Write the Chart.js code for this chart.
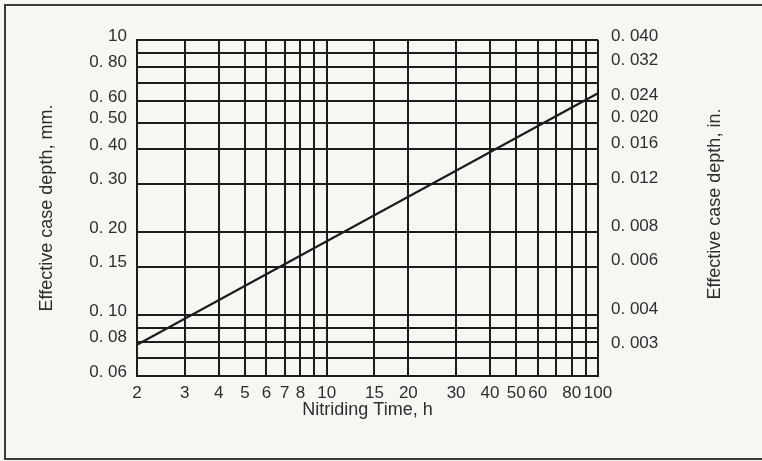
<!DOCTYPE html>
<html>
<head>
<meta charset="utf-8">
<script src="https://cdn.jsdelivr.net/npm/chart.js@4/dist/chart.umd.min.js"></script>
<style>
  html, body { margin: 0; padding: 0; background: #f6f6f3; }
  #wrap { position: relative; width: 762px; height: 461px; overflow: hidden; }
  #frame {
    position: absolute; left: 4px; top: 4px; width: 770px; height: 452px;
    border-top: 2px solid #3a3a3a; border-left: 2px solid #3a3a3a; border-bottom: 2px solid #3a3a3a;
    pointer-events: none;
  }
</style>
</head>
<body>
<div id="wrap">
  <canvas id="myChart" width="762" height="461"></canvas>
  <div id="frame"></div>
</div>
<script>
const times = [2, 100];
const depths = [0.078, 0.64];

// Líneas de la rejilla y etiquetas del eje X
const xGrid = [2, 3, 4, 5, 6, 7, 8, 9, 10, 15, 20, 30, 40, 50, 60, 70, 80, 90, 100];
const xLabels = [2, 3, 4, 5, 6, 7, 8, 10, 15, 20, 30, 40, 50, 60, 80, 100];

// Eje izquierdo en mm
const yGrid = [1.0, 0.9, 0.8, 0.7, 0.6, 0.5, 0.4, 0.3, 0.2, 0.15, 0.10, 0.09, 0.08, 0.07, 0.06];
const yLabels = { 1.0: '10', 0.8: '0. 80', 0.6: '0. 60', 0.5: '0. 50', 0.4: '0. 40', 0.3: '0. 30',
                  0.2: '0. 20', 0.15: '0. 15', 0.1: '0. 10', 0.08: '0. 08', 0.06: '0. 06' };

// Eje derecho en pulgadas
const inTicks = [1 / 25.4, 0.032, 0.024, 0.020, 0.016, 0.012, 0.008, 0.006, 0.004, 0.003];
const inLabels = ['0. 040', '0. 032', '0. 024', '0. 020', '0. 016', '0. 012', '0. 008', '0. 006', '0. 004', '0. 003'];

const ink = '#1c1c1c';
const textColor = '#2e2e2e';
const tickFont = { family: 'Liberation Sans, Arial, sans-serif', size: 17 };
const titleFont = { family: 'Liberation Sans, Arial, sans-serif', size: 18 };

// Título del eje derecho, leído de abajo hacia arriba como el izquierdo
const rightTitle = {
    id: 'rightTitle',
    afterDraw(chart) {
        const c = chart.ctx;
        const area = chart.chartArea;
        c.save();
        c.translate(715, (area.top + area.bottom) / 2 - 4);
        c.rotate(-Math.PI / 2);
        c.fillStyle = textColor;
        c.font = titleFont.size + 'px ' + titleFont.family;
        c.textAlign = 'center';
        c.textBaseline = 'middle';
        c.fillText('Effective case depth, in.', 0, 0);
        c.restore();
    }
};

const ctx = document.getElementById('myChart').getContext('2d');
new Chart(ctx, {
    type: 'line',
    data: {
        datasets: [{
            data: times.map((t, i) => ({ x: t, y: depths[i] })),
            borderColor: ink,
            borderWidth: 2.2,
            pointRadius: 0,
            fill: false
        }]
    },
    options: {
        responsive: false,
        animation: false,
        layout: { padding: { left: 0, right: 0, top: 40, bottom: 0 } },
        plugins: { legend: { display: false }, tooltip: { enabled: false } },
        scales: {
            x: {
                type: 'logarithmic',
                min: 2, max: 100,
                afterBuildTicks: s => { s.ticks = xGrid.map(v => ({ value: v })); },
                afterFit: s => { s.height = 85; },
                grid: { color: ink, lineWidth: 2, drawTicks: false },
                border: { color: ink, width: 2 },
                ticks: {
                    autoSkip: false, maxRotation: 0, padding: 7,
                    color: textColor, font: tickFont,
                    callback: v => xLabels.includes(v) ? String(v) : ''
                },
                title: {
                    display: true, text: 'Nitriding Time, h',
                    color: textColor, font: titleFont,
                    padding: { top: 0, bottom: 40 }
                }
            },
            y: {
                type: 'logarithmic',
                position: 'left',
                min: 0.06, max: 1.0,
                afterBuildTicks: s => { s.ticks = yGrid.map(v => ({ value: v })); },
                afterFit: s => { s.width = 137; },
                grid: { color: ink, lineWidth: 2, drawTicks: false },
                border: { color: ink, width: 2 },
                ticks: {
                    autoSkip: false, padding: 10, labelOffset: -4,
                    color: textColor, font: tickFont,
                    callback: v => {
                        const k = Object.keys(yLabels).find(key => Math.abs(key - v) < 1e-6);
                        return k ? yLabels[k] : '';
                    }
                },
                title: {
                    display: true, text: 'Effective case depth, mm.',
                    color: textColor, font: titleFont,
                    padding: { top: 36, bottom: 0 }
                }
            },
            y2: {
                type: 'logarithmic',
                position: 'right',
                min: 0.06 / 25.4, max: 1.0 / 25.4,
                afterBuildTicks: s => { s.ticks = inTicks.map(v => ({ value: v })); },
                afterFit: s => { s.width = 164; },
                grid: { display: false, drawTicks: false },
                border: { display: false },
                ticks: {
                    autoSkip: false, padding: 13, labelOffset: -4,
                    color: textColor, font: tickFont,
                    callback: (v, i) => inLabels[i]
                }
            }
        }
    },
    plugins: [rightTitle]
});
</script>
</body>
</html>
